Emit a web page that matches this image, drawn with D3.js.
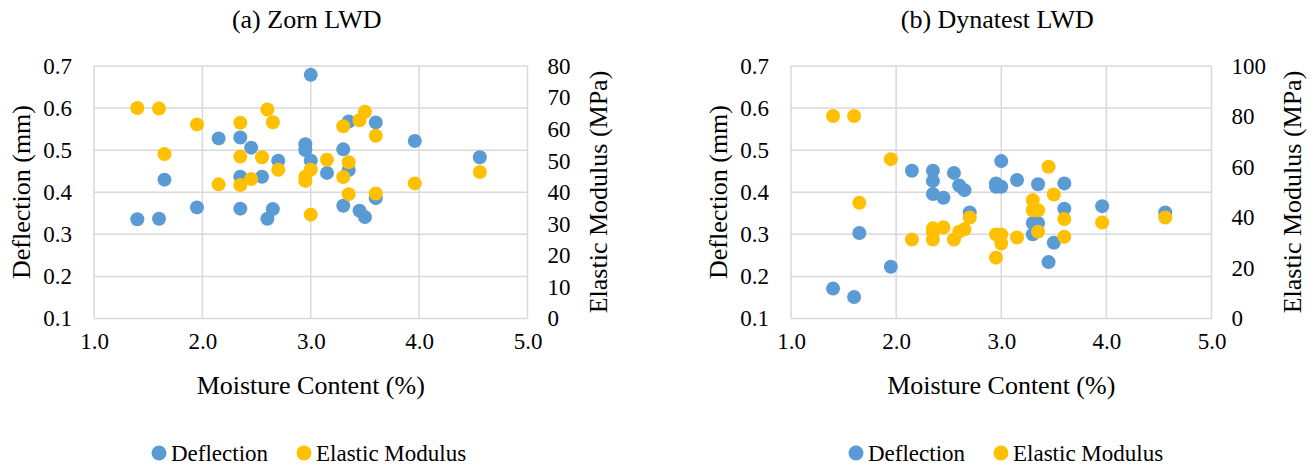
<!DOCTYPE html>
<html>
<head>
<meta charset="utf-8">
<script src="https://d3js.org/d3.v7.min.js"></script>
<style>
  body { margin: 0; background: #fff; }
</style>
</head>
<body>
<script>
// moisture content (%) - same sample points for both devices
var moisture = [1.40, 1.60, 1.65, 1.95, 2.15, 2.35, 2.35, 2.35, 2.45, 2.55, 2.60, 2.65, 2.70, 2.95,
                2.95, 3.00, 3.00, 3.15, 3.30, 3.30, 3.35, 3.35, 3.45, 3.50, 3.60, 3.60, 3.96, 4.56];

var zornDeflection = [0.336, 0.337, 0.430, 0.364, 0.528, 0.530, 0.437, 0.361, 0.506, 0.437, 0.337, 0.360, 0.475, 0.514,
                      0.500, 0.679, 0.475, 0.446, 0.502, 0.368, 0.453, 0.568, 0.356, 0.341, 0.566, 0.386, 0.522, 0.483];
var zornModulus = [66.7, 66.5, 52.1, 61.5, 42.5, 62.0, 51.3, 42.3, 44.2, 51.1, 66.2, 62.2, 47.1, 44.9,
                   43.6, 47.2, 32.9, 50.3, 60.9, 44.8, 49.5, 39.4, 62.8, 65.5, 57.9, 39.6, 42.8, 46.4];

var dynDeflection = [0.171, 0.151, 0.303, 0.223, 0.451, 0.451, 0.427, 0.396, 0.387, 0.446, 0.416, 0.405, 0.352, 0.421,
                     0.413, 0.474, 0.413, 0.429, 0.327, 0.300, 0.419, 0.327, 0.234, 0.280, 0.421, 0.361, 0.367, 0.352];
var dynModulus = [80.2, 80.2, 45.8, 63.1, 31.3, 35.7, 34.0, 31.3, 36.1, 31.3, 34.4, 35.3, 40.0, 33.3,
                  24.1, 33.3, 29.7, 32.1, 46.9, 42.9, 42.9, 34.4, 60.1, 49.1, 39.4, 32.4, 38.0, 40.0];

var xTicks = [1, 2, 3, 4, 5];
var deflTicks = [0.1, 0.2, 0.3, 0.4, 0.5, 0.6, 0.7];
var zornModTicks = [0, 10, 20, 30, 40, 50, 60, 70, 80];
var dynModTicks = [0, 20, 40, 60, 80, 100];

var blue = "#5B9BD5", gold = "#FFC000", grid = "#d9d9d9";
var FONT = "'Liberation Serif', 'Times New Roman', Times, serif";

var svg = d3.select("body").append("svg")
    .attr("width", 1316)
    .attr("height", 468)
    .style("font-family", FONT);

function styleText(sel, size) {
    sel.attr("font-size", null).attr("font-family", null)
        .style("font-family", FONT).style("font-size", size + "px").attr("fill", "#000");
}

function panel(cfg) {
    var x = d3.scaleLinear().domain([1, 5]).range([cfg.x0, cfg.x1]);
    var yL = d3.scaleLinear().domain([0.1, 0.7]).range([318.5, 66]);
    var yR = d3.scaleLinear().domain([0, cfg.modMax]).range([318.5, 66]);
    var g = svg.append("g");

    // grid
    g.selectAll(".vgrid").data(xTicks).enter().append("line")
        .attr("x1", d => x(d)).attr("x2", d => x(d))
        .attr("y1", yL(0.1)).attr("y2", yL(0.7))
        .attr("stroke", grid).attr("stroke-width", 1.5);
    g.selectAll(".hgrid").data(deflTicks).enter().append("line")
        .attr("x1", x(1)).attr("x2", x(5))
        .attr("y1", d => yL(d)).attr("y2", d => yL(d))
        .attr("stroke", grid).attr("stroke-width", 1.5);

    // axes (labels only)
    var ax = [
        g.append("g").attr("transform", "translate(0,318.5)")
            .call(d3.axisBottom(x).tickValues(xTicks).tickSize(0).tickPadding(14).tickFormat(d3.format(".1f"))),
        g.append("g").attr("transform", "translate(" + cfg.x0 + ",0)")
            .call(d3.axisLeft(yL).tickValues(deflTicks).tickSize(0).tickPadding(22).tickFormat(d3.format(".1f"))),
        g.append("g").attr("transform", "translate(" + cfg.x1 + ",0)")
            .call(d3.axisRight(yR).tickValues(cfg.modTicks).tickSize(0).tickPadding(20))
    ];
    ax.forEach(function(a) {
        a.attr("font-family", null).attr("font-size", null);
        a.select(".domain").remove();
        styleText(a.selectAll("text"), 23);
    });

    // points: deflection first, modulus on top
    var pts = moisture.map((m, i) => ({m: m, d: cfg.defl[i], e: cfg.mod[i]}));
    g.selectAll(".defl").data(pts).enter().append("circle")
        .attr("cx", d => x(d.m)).attr("cy", d => yL(d.d)).attr("r", 7)
        .attr("fill", blue);
    g.selectAll(".mod").data(pts).enter().append("circle")
        .attr("cx", d => x(d.m)).attr("cy", d => yR(d.e)).attr("r", 7)
        .attr("fill", gold);

    // titles
    var cx = (cfg.x0 + cfg.x1) / 2;
    styleText(g.append("text").attr("x", cx - 4).attr("y", 28).attr("text-anchor", "middle")
        .text(cfg.title), 26);
    styleText(g.append("text").attr("x", cx).attr("y", 394).attr("text-anchor", "middle")
        .text("Moisture Content (%)"), 26);
    styleText(g.append("text").attr("transform", "translate(" + (cfg.x0 - 64) + ",192) rotate(-90)")
        .attr("text-anchor", "middle").text("Deflection (mm)"), 26);
    styleText(g.append("text").attr("transform", "translate(" + (cfg.x1 + cfg.rTitle) + ",192) rotate(-90)")
        .attr("text-anchor", "middle").text("Elastic Modulus (MPa)"), 26);

    // legend
    var lx = cfg.x0 + 65;
    var items = [{k: "Deflection", c: blue, dx: 0}, {k: "Elastic Modulus", c: gold, dx: 145}];
    var leg = g.selectAll(".leg").data(items).enter().append("g")
        .attr("transform", d => "translate(" + (lx + d.dx) + ",453)");
    leg.append("circle").attr("r", 7.5).attr("fill", d => d.c);
    styleText(leg.append("text").attr("x", 12).attr("y", 8).text(d => d.k), 23);
}

panel({x0: 94, x1: 527.5, title: "(a) Zorn LWD", defl: zornDeflection, mod: zornModulus,
       modMax: 80, modTicks: zornModTicks, rTitle: 79});
panel({x0: 791, x1: 1211.5, title: "(b) Dynatest LWD", defl: dynDeflection, mod: dynModulus,
       modMax: 100, modTicks: dynModTicks, rTitle: 89});
</script>
</body>
</html>
